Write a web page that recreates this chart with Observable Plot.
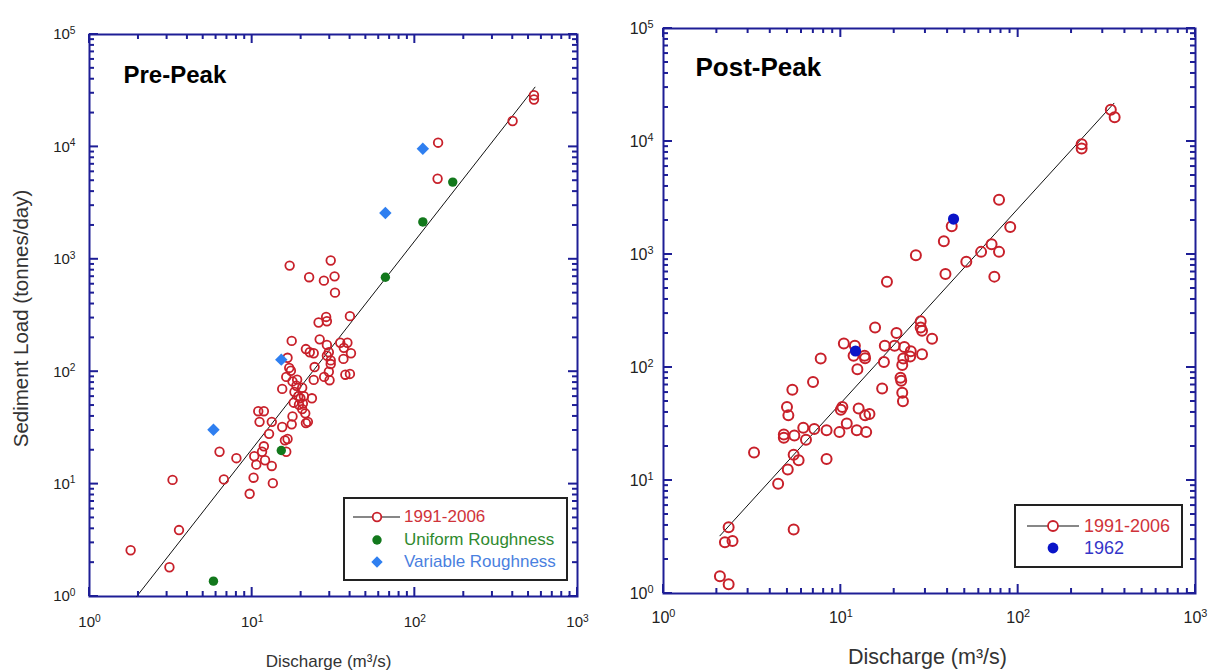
<!DOCTYPE html>
<html>
<head>
<meta charset="utf-8">
<script src="https://cdn.jsdelivr.net/npm/d3@7"></script>
<script src="https://cdn.jsdelivr.net/npm/@observablehq/plot@0.6"></script>
<style>
  body { margin: 0; background: #fff; font-family: "Liberation Sans", Arial, sans-serif; }
  #wrap { position: relative; width: 1212px; height: 672px; overflow: hidden; background: #fff; }
  .panel { position: absolute; top: 0; }
  .legend { position: absolute; box-sizing: border-box; border: 2px solid #222; background: #fff; }
  .legend .row { position: absolute; left: 0; height: 22px; display: flex; align-items: center; white-space: nowrap; }
  .legend svg { position: absolute; left: 0; top: 0; }
</style>
</head>
<body>
<div id="wrap">
  <div id="left" class="panel" style="left:0px"></div>
  <div id="right" class="panel" style="left:600px"></div>
</div>
<script>
// ---------- DATA ----------
// Pre-Peak, 1991-2006 observations: discharge (m3/s) and sediment load (tonnes/day)
const preQ = [1.79,3.1,3.24,3.55,6.3,6.7,8.0,9.65,10.2,10.3,10.6,10.9,11.1,11.8,11.5,11.8,12.0,12.7,13.2,13.2,13.4,15.3,15.9,16.2,16.5,15.3,16.2,16.5,17.0,17.5,17.3,17.7,18.0,17.5,17.7,18.2,18.7,19.2,19.4,19.8,20.3,20.8,20.3,21.2,21.4,22.0,23.3,21.4,22.6,22.4,23.9,24.2,23.9,25.6,26.0,27.6,27.7,28.5,28.8,28.8,28.8,29.6,29.6,29.9,30.4,30.4,30.4,32.1,32.3,34.8,36.4,36.6,37.4,38.5,39.9,40.5,39.9,139,138,399,540,540,18.9,20.5,16.9];
const preLoad = [2.58,1.82,10.9,3.9,19.4,11,17,8.2,11.4,17.7,14.9,44.5,35.8,44.5,19.4,21.7,16.3,28,35.8,14.5,10.2,32.2,24.5,19.4,25.2,70.3,89.9,133,879,188,102,82,53,34,40,66,75,60.6,50.8,58,72,60.6,46.5,42.6,34.9,35.8,58,159,149,693,146,110,84.5,274,194,646,89.9,307,281,173,139,149,100,84,976,117,126,705,505,181,130,163,94,181,312,146,95.5,10900,5210,17000,28800,26400,85,52,108];
// Pre-Peak model runs
const uniformQ = [5.78,15.1,65.9,112,171];
const uniformLoad = [1.37,19.9,693,2150,4860];
const variableQ = [5.78,15.1,65.9,112];
const variableLoad = [30.5,128,2580,9620];
// Pre-Peak fitted power law (end points)
const preFitQ = [1.95,548];
const preFitLoad = [1,34000];

// Post-Peak, 1991-2006 observations
const postQ = [2.08,2.33,2.22,2.45,2.33,3.24,4.43,5.02,5.42,5.42,5.78,4.77,4.77,5.47,4.97,5.06,5.33,6.14,6.36,7.08,6.97,7.7,8.31,8.31,9.82,10.0,10.2,10.8,10.4,12.3,12.4,12.6,12.0,11.8,13.6,13.7,13.9,13.7,14.5,15.6,17.1,17.5,17.7,18.2,20.1,20.6,21.7,21.9,22.2,22.4,22.2,22.5,22.8,24.6,24.8,26.5,28.2,28.2,28.7,28.7,32.7,38.1,38.9,42.2,51.0,61.8,70.8,73.4,78.0,78.0,90.2,228,228,333,350];
const postLoad = [1.42,1.21,2.84,2.92,3.85,17.7,9.36,12.5,3.69,16.9,15.1,25.5,23.9,25.0,44.8,37.7,63.5,29.3,22.9,28.5,74.3,120,27.8,15.5,26.8,42.2,44.8,31.9,163,27.8,96.4,43.3,156,127,127,121,26.8,37.7,38.7,226,65.2,112,156,574,156,202,81,76.2,59.8,50.2,105,120,152,125,139,984,256,226,211,131,180,1312,671,1778,864,1055,1234,637,3050,1055,1750,9460,8670,19100,16400];
// Post-Peak 1962
const q1962 = [12.1,43.2];
const load1962 = [140,2060];
// Post-Peak fitted power law (end points)
const postFitQ = [2.08,347];
const postFitLoad = [3.24,21800];

// Axes
const xTicks = [1,10,100,1000];
const yTicks = [1,10,100,1000,10000,100000];
const panelTitles = ["Pre-Peak","Post-Peak"];
const xLabel = "Discharge (m³/s)";
const yLabel = "Sediment Load (tonnes/day)";
const legendPre = [
  {label: "1991-2006", color: "#d0333a", kind: "lineCircle"},
  {label: "Uniform Roughness", color: "#2f8a2f", kind: "dot", mark: "#12781c"},
  {label: "Variable Roughness", color: "#4a7fe0", kind: "diamond", mark: "#2f7ff0"}
];
const legendPost = [
  {label: "1991-2006", color: "#d0333a", kind: "lineCircle"},
  {label: "1962", color: "#3535c8", kind: "dot", mark: "#0a14c8"}
];

// ---------- STYLE ----------
const NAVY = "#1e1e96";
const RED = "#c8202a";
const FONT = "'Liberation Sans', Arial, sans-serif";
const rows = (xs, ys) => xs.map((x, i) => ({x, y: ys[i]}));
const minors = (decades) => decades.flatMap(d => [2,3,4,5,6,7,8,9].map(k => k * d));

// rewrite "10^n" tick labels as 10 with a real superscript tspan
function superscriptLabels(plot, size) {
  d3.select(plot).selectAll('g[aria-label$="tick label"] text').each(function () {
    const t = d3.select(this);
    const s = t.text();
    if (!s.includes("^")) return;
    const [base, exp] = s.split("^");
    t.text(null).attr("font-size", size);
    t.append("tspan").text(base);
    t.append("tspan").attr("dy", "-0.55em").attr("font-size", "0.68em").text(exp);
  });
}

function panel(cfg) {
  const plot = Plot.plot({
    width: cfg.width, height: cfg.height,
    marginLeft: cfg.ml, marginRight: cfg.mr, marginTop: cfg.mt, marginBottom: cfg.mb,
    style: {fontFamily: FONT, fontSize: cfg.tickFont + "px", color: "#222", background: "#fff", overflow: "visible"},
    x: {type: "log", domain: [1, 1000]},
    y: {type: "log", domain: [1, 100000]},
    marks: [
      Plot.frame({stroke: NAVY, strokeWidth: 2, fill: "none"}),
      Plot.axisX({ticks: xTicks, tickSize: 0, tickPadding: cfg.xPad, tickFormat: d => "10^" + Math.round(Math.log10(d)), label: null, fontSize: cfg.tickFont}),
      Plot.axisY({ticks: yTicks, tickSize: 0, tickPadding: cfg.yPad, tickFormat: d => "10^" + Math.round(Math.log10(d)), label: null, fontSize: cfg.tickFont}),
      Plot.text([cfg.title], {frameAnchor: "top-left", textAnchor: "start", lineAnchor: "bottom", dx: cfg.titleDx, dy: cfg.titleDy, fontSize: cfg.titleFont, fontWeight: "bold", fill: "#000"}),
      Plot.text([xLabel], {frameAnchor: "bottom", textAnchor: "middle", lineAnchor: "bottom", dx: cfg.xlDx, dy: cfg.xlDy, fontSize: cfg.xlFont, fill: "#333"}),
      ...(cfg.showY ? [Plot.text([yLabel], {frameAnchor: "left", textAnchor: "middle", lineAnchor: "middle", rotate: -90, dx: -68, dy: 3, fontSize: 20.5, fill: "#333"})] : []),
      ...cfg.marks
    ]
  });
  superscriptLabels(plot, cfg.tickFont);
  // inward ticks on all four sides, placed with the plot's own scales
  const sx = plot.scale("x"), sy = plot.scale("y");
  const X = v => sx.apply(v), Y = v => sy.apply(v);
  const left = cfg.ml, right = cfg.width - cfg.mr, top = cfg.mt, bottom = cfg.height - cfg.mb;
  const g = d3.select(plot).append("g").attr("class", "inner-ticks").attr("stroke", NAVY).attr("stroke-width", 2);
  const seg = (x1, y1, x2, y2) => g.append("line").attr("x1", x1).attr("y1", y1).attr("x2", x2).attr("y2", y2);
  for (const [vals, len] of [[xTicks, 9], [minors(xTicks.slice(0, -1)), 5]]) {
    for (const v of vals) { seg(X(v), bottom, X(v), bottom - len); seg(X(v), top, X(v), top + len); }
  }
  for (const [vals, len] of [[yTicks, 9], [minors(yTicks.slice(0, -1)), 5]]) {
    for (const v of vals) { seg(left, Y(v), left + len, Y(v)); seg(right, Y(v), right - len, Y(v)); }
  }
  return plot;
}

const left = panel({
  width: 600, height: 672, ml: 89, mr: 23, mt: 34, mb: 76,
  xPad: 20, yPad: 14, tickFont: 15,
  title: panelTitles[0], titleDx: 34, titleDy: 48, titleFont: 24,
  xlDx: -5, xlDy: 70, xlFont: 17, showY: true,
  marks: [
    Plot.line(rows(preFitQ, preFitLoad), {x: "x", y: "y", stroke: "#111", strokeWidth: 1}),
    Plot.dot(rows(preQ, preLoad), {x: "x", y: "y", r: 4.3, stroke: RED, strokeWidth: 1.8}),
    Plot.dot(rows(uniformQ, uniformLoad), {x: "x", y: "y", r: 4.7, fill: "#12781c"}),
    Plot.dot(rows(variableQ, variableLoad), {x: "x", y: "y", r: 5.6, symbol: "diamond2", fill: "#2f7ff0"})
  ]
});

const right = panel({
  width: 612, height: 672, ml: 63, mr: 17, mt: 28, mb: 79,
  xPad: 18, yPad: 10, tickFont: 16,
  title: panelTitles[1], titleDx: 32, titleDy: 47, titleFont: 26,
  xlDx: -2, xlDy: 70, xlFont: 21.5, showY: false,
  marks: [
    Plot.line(rows(postFitQ, postFitLoad), {x: "x", y: "y", stroke: "#111", strokeWidth: 1}),
    Plot.dot(rows(postQ, postLoad), {x: "x", y: "y", r: 5, stroke: RED, strokeWidth: 2}),
    Plot.dot(rows(q1962, load1962), {x: "x", y: "y", r: 5.6, fill: "#0a14c8"})
  ]
});

document.getElementById("left").appendChild(left);
document.getElementById("right").appendChild(right);

// ---------- LEGENDS ----------
function legend(items, box) {
  const div = document.createElement("div");
  div.className = "legend";
  Object.assign(div.style, {left: box.x + "px", top: box.y + "px", width: box.w + "px", height: box.h + "px"});
  const ns = "http://www.w3.org/2000/svg";
  const svg = document.createElementNS(ns, "svg");
  svg.setAttribute("width", box.w); svg.setAttribute("height", box.h);
  items.forEach((it, i) => {
    const cy = box.rowY[i];
    if (it.kind === "lineCircle") {
      const ln = document.createElementNS(ns, "line");
      ln.setAttribute("x1", box.lx0); ln.setAttribute("x2", box.lx1);
      ln.setAttribute("y1", cy); ln.setAttribute("y2", cy);
      ln.setAttribute("stroke", "#111"); ln.setAttribute("stroke-width", 1.2);
      svg.appendChild(ln);
      const c = document.createElementNS(ns, "circle");
      c.setAttribute("cx", box.mx); c.setAttribute("cy", cy); c.setAttribute("r", box.r);
      c.setAttribute("fill", "#fff"); c.setAttribute("stroke", RED); c.setAttribute("stroke-width", 1.8);
      svg.appendChild(c);
    } else if (it.kind === "dot") {
      const c = document.createElementNS(ns, "circle");
      c.setAttribute("cx", box.mx); c.setAttribute("cy", cy); c.setAttribute("r", box.r + 0.4);
      c.setAttribute("fill", it.mark);
      svg.appendChild(c);
    } else {
      const p = document.createElementNS(ns, "path");
      const s = box.r + 1.4;
      p.setAttribute("d", `M${box.mx},${cy - s}L${box.mx + s},${cy}L${box.mx},${cy + s}L${box.mx - s},${cy}Z`);
      p.setAttribute("fill", it.mark);
      svg.appendChild(p);
    }
    const row = document.createElement("div");
    row.className = "row";
    row.textContent = it.label;
    Object.assign(row.style, {left: box.tx + "px", top: (cy - 11) + "px", color: it.color, fontSize: box.font + "px"});
    div.appendChild(row);
  });
  div.insertBefore(svg, div.firstChild);
  document.getElementById("wrap").appendChild(div);
}

legend(legendPre, {x: 343, y: 497, w: 225, h: 84, rowY: [18, 41, 63], lx0: 8, lx1: 55, mx: 32, r: 4.3, tx: 59, font: 17});
legend(legendPost, {x: 1014, y: 504, w: 169, h: 64, rowY: [20, 42], lx0: 11, lx1: 63, mx: 37, r: 5, tx: 68, font: 18});
</script>
</body>
</html>
